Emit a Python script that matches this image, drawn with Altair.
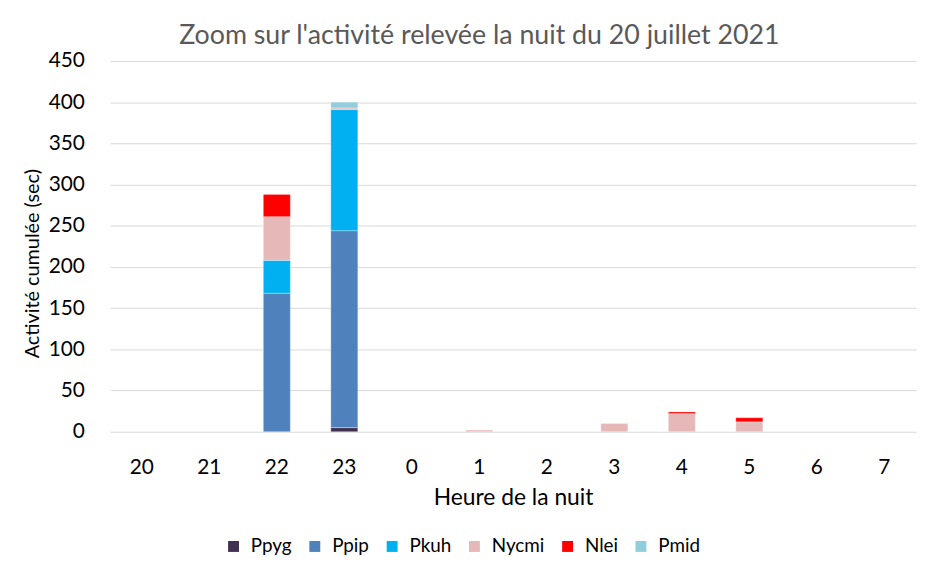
import altair as alt
import pandas as pd

hours = ["20", "21", "22", "23", "0", "1", "2", "3", "4", "5", "6", "7"]
species = ["Ppyg", "Ppip", "Pkuh", "Nycmi", "Nlei", "Pmid"]
colors = ["#403152", "#4F81BD", "#00B0F0", "#E6B9B8", "#FF0000", "#92CDDC"]

ppyg  = [0, 0, 0,   5,   0, 0,   0, 0,  0,  0,  0, 0]
ppip  = [0, 0, 168, 239, 0, 0,   0, 0,  0,  0,  0, 0]
pkuh  = [0, 0, 40,  147, 0, 0,   0, 0,  0,  0,  0, 0]
nycmi = [0, 0, 53,  2,   0, 2,   0, 10, 22, 12, 0, 0]
nlei  = [0, 0, 27,  0,   0, 0,   0, 0,  2,  5,  0, 0]
pmid  = [0, 0, 0,   7,   0, 0,   0, 0,  0,  0,  0, 0]

series = [ppyg, ppip, pkuh, nycmi, nlei, pmid]
rows = []
for si, (sp, vals) in enumerate(zip(species, series)):
    for h, v in zip(hours, vals):
        rows.append({"Heure": h, "Espèce": sp, "Valeur": v, "ordre": si})
df = pd.DataFrame(rows)

FONT = "Lato"

chart = alt.Chart(df).transform_filter("datum.Valeur > 0").mark_bar(
    stroke="white", strokeWidth=0.5, strokeOpacity=0.6
).encode(
    x=alt.X("Heure:N", sort=hours, title="Heure de la nuit",
            scale=alt.Scale(domain=hours, paddingInner=0.6, paddingOuter=0.27),
            axis=alt.Axis(labelAngle=0, domain=False, ticks=False, labelPadding=25,
                          labelFontSize=21, titleFontSize=23, titleFontWeight="normal",
                          labelColor="#000000", titleColor="#000000", titlePadding=9)),
    y=alt.Y("Valeur:Q", stack="zero", title="Activité cumulée (sec)",
            scale=alt.Scale(domain=[0, 450]),
            axis=alt.Axis(values=list(range(0, 451, 50)), domain=False, ticks=False,
                          labelPadding=26, labelFontSize=21, titleFontSize=20,
                          titleFontWeight="normal", labelColor="#000000",
                          titleColor="#000000", gridColor="#D9D9D9", titlePadding=6,
                          titleY=204)),
    color=alt.Color("Espèce:N", sort=species,
                    scale=alt.Scale(domain=species, range=colors),
                    legend=alt.Legend(orient="none", legendX=115, legendY=480,
                                      direction="horizontal", title=None,
                                      symbolType="square", symbolSize=121, symbolStrokeWidth=0,
                                      labelFontSize=19, labelColor="#000000", labelOffset=8,
                                      columnPadding=13)),
    order=alt.Order("ordre:Q", sort="ascending"),
).properties(
    width=813, height=374,
    padding={"left": 14, "top": 12, "right": 5, "bottom": 5},
    title=alt.TitleParams("Zoom sur l'activité relevée la nuit du 20 juillet 2021",
                          fontSize=27, fontWeight="normal", color="#595959", offset=0,
                          dx=-34),
).configure(font=FONT).configure_view(stroke=None)

chart.save("out.html", embed_options={"renderer": "svg", "actions": False})
